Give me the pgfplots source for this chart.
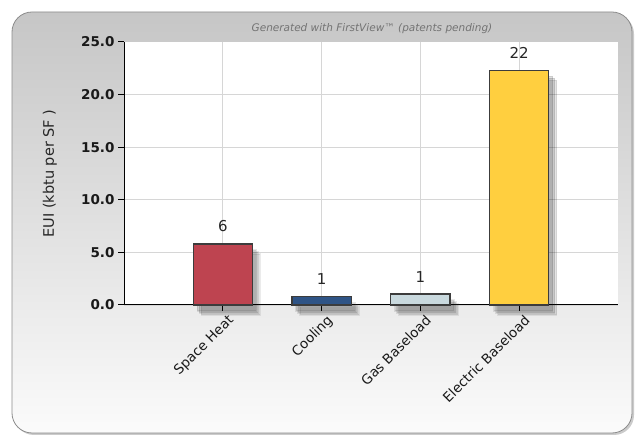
\documentclass[border=0pt]{standalone}
\usepackage{fontspec}
\setmainfont{DejaVu Sans}
\usepackage{pgfplots}
\pgfplotsset{compat=1.18}
\definecolor{heat}{HTML}{BE4450}
\definecolor{cool}{HTML}{2F5486}
\definecolor{gasb}{HTML}{C9D9DE}
\definecolor{elec}{HTML}{FFCF3F}
\definecolor{paneltop}{HTML}{C6C6C6}
\definecolor{panelbot}{HTML}{FBFBFB}
\definecolor{outl}{HTML}{3C3C3C}
\definecolor{gridc}{HTML}{D6D6D6}
\tikzset{barshadow/.style={
  preaction={fill=black, opacity=0.12, transform canvas={shift={(4pt,-6pt)}}},
  preaction={fill=black, opacity=0.12, transform canvas={shift={(6pt,-8pt)}}},
  preaction={fill=black, opacity=0.10, transform canvas={shift={(8pt,-10pt)}}}}}
\begin{document}
\begin{tikzpicture}[x=1pt,y=1pt]
\fill[white] (0,0) rectangle (637,436);
\fill[black!40, opacity=0.5, rounded corners=20pt] (14,1) rectangle (634,422);
\shadedraw[top color=paneltop, bottom color=panelbot, rounded corners=20pt, draw=black!45, line width=0.8pt] (12,3) rectangle (632,424);
\node[font=\fontsize{10.5}{12}\selectfont\itshape, text=black!55] at (372,407) {Generated with FirstView™ (patents pending)};
\begin{axis}[
  at={(124pt,131pt)}, anchor=south west,
  scale only axis, width=494pt, height=263pt,
  xmin=-1, xmax=4, ymin=0, ymax=25,
  clip=false,
  axis lines=left, axis line style={-, black, line width=1pt},
  axis background/.style={fill=white},
  tick align=outside, major tick length=6pt,
  tick style={black, line width=1pt},
  xtick={0,1,2,3},
  xticklabels={Space Heat, Cooling, Gas Baseload, Electric Baseload},
  ytick={0,5,10,15,20},
  extra y ticks={25}, extra y tick style={grid=none},
  grid=major, grid style={line width=0.9pt, color=gridc},
  /pgf/number format/assume math mode=true,
  yticklabel style={/pgf/number format/.cd, fixed, fixed zerofill, precision=1, /tikz/.cd,
     font=\fontsize{13.5}{15}\selectfont\bfseries, text=black!90},
  xticklabel style={rotate=45, anchor=north east, inner sep=0pt, xshift=1pt, yshift=-5pt,
     font=\fontsize{13.5}{15}\selectfont, text=black!90},
  ylabel={EUI (kbtu per SF )},
  ylabel style={at={(axis description cs:-0.15,0.5)}, anchor=center,
     font=\fontsize{14.5}{16}\selectfont, text=black!85},
  ybar, bar width=0.6, bar shift=0pt,
  nodes near coords={\pgfmathprintnumber[fixed,precision=0]{\pgfplotspointmeta}},
  nodes near coords style={font=\fontsize{15}{16}\selectfont, text=black!85, anchor=south, yshift=8pt},
]
\addplot[fill=heat, draw=outl, line width=1.2pt, barshadow] coordinates {(0,5.8)};
\addplot[fill=cool, draw=outl, line width=1.2pt, barshadow] coordinates {(1,0.78)};
\addplot[fill=gasb, draw=outl, line width=1.2pt, barshadow] coordinates {(2,1.05)};
\addplot[fill=elec, draw=outl, line width=1.2pt, barshadow] coordinates {(3,22.3)};
\end{axis}
\end{tikzpicture}
\end{document}
